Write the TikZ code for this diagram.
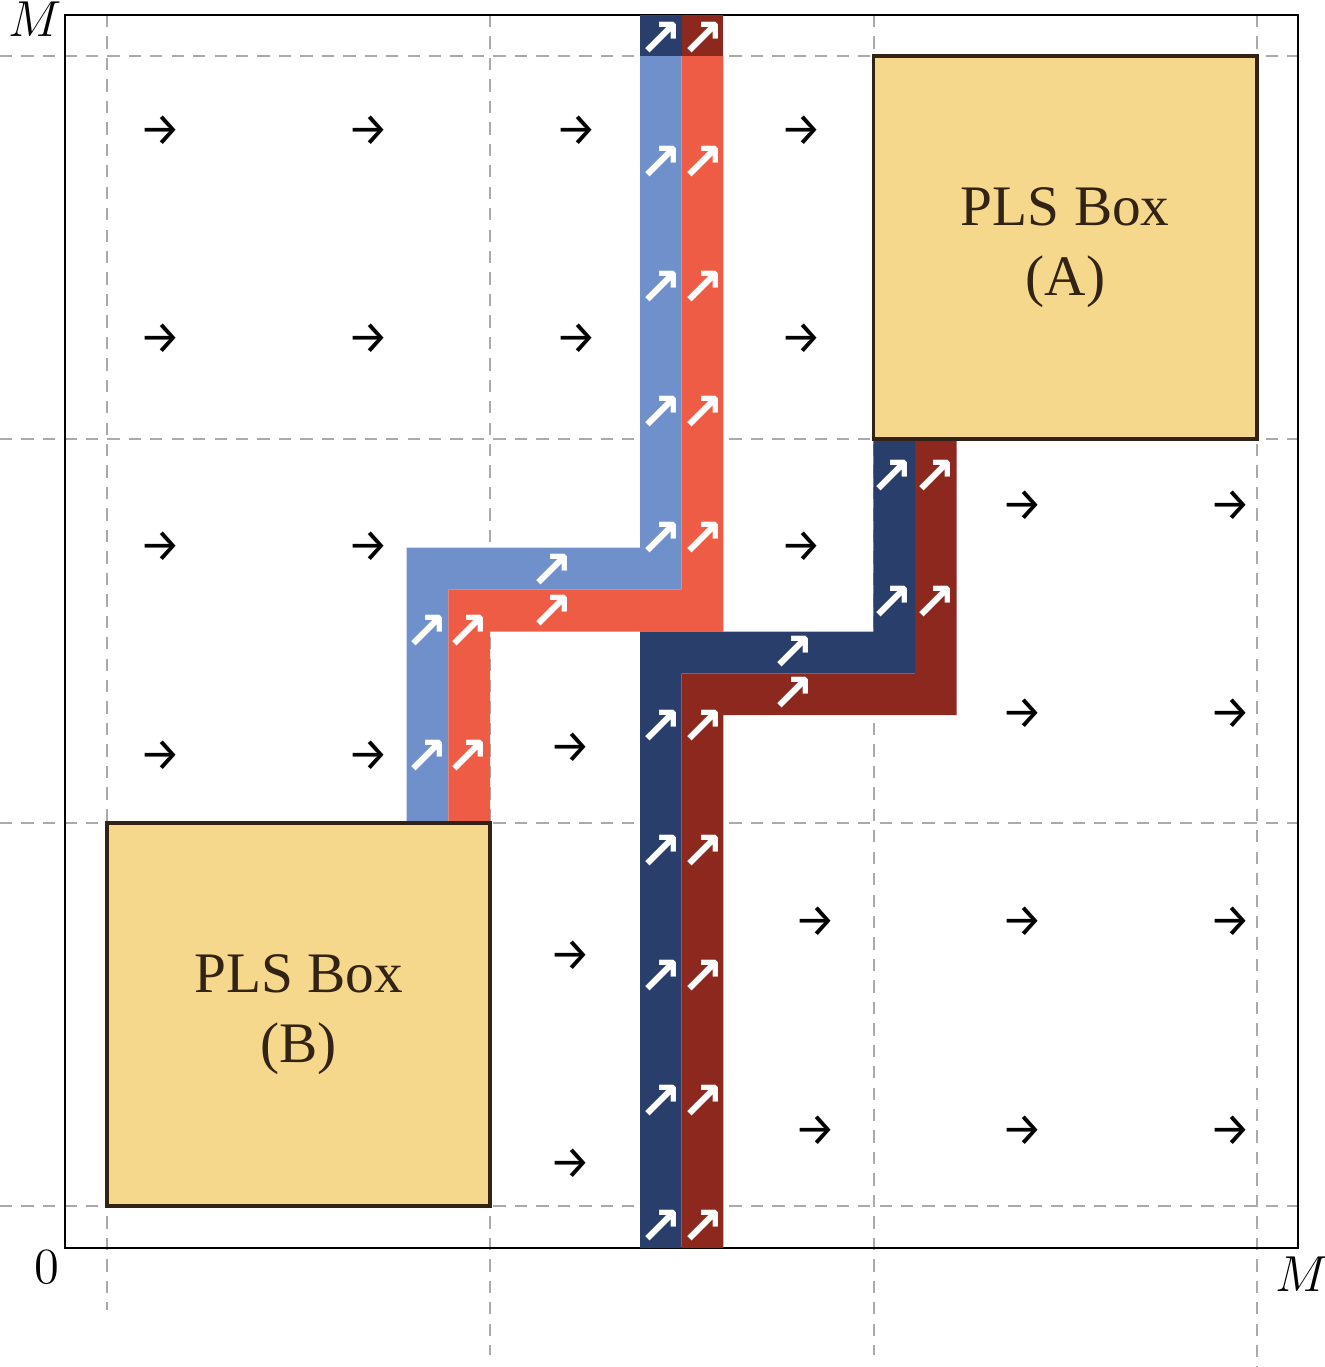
\documentclass[tikz,border=0pt]{standalone}
\usepackage{fontspec}
\newfontfamily\plsfont{Liberation Serif}
\newfontfamily\arrfontA{Fira Sans}
\newfontfamily\arrfontB{DejaVu Sans}
\definecolor{lblue}{RGB}{112,144,203}
\definecolor{lred}{RGB}{238,92,70}
\definecolor{dblue}{RGB}{42,62,108}
\definecolor{dred}{RGB}{140,40,30}
\definecolor{boxfill}{RGB}{245,216,140}
\definecolor{boxedge}{RGB}{50,35,20}
\definecolor{gridgray}{RGB}{170,170,170}
\tikzset{
  gridline/.style={gridgray, line width=0.55pt, dash pattern=on 3.5pt off 2.6pt},
  plsbox/.style={draw=boxedge, line width=1.1pt, fill=boxfill, minimum width=3.833cm, minimum height=3.833cm, inner sep=0pt, align=center, text=boxedge, font=\plsfont\fontsize{16.3}{20}\selectfont},
  flowarrow/.style={inner sep=0pt, font=\arrfontA\fontsize{13.2}{13}\selectfont},
  uparrow/.style={inner sep=0pt, text=white, font=\arrfontB\bfseries\fontsize{15}{15}\selectfont},
  axlab/.style={inner sep=0pt, font=\fontsize{14}{14}\selectfont},
}
\begin{document}
\begin{tikzpicture}[x=0.01cm,y=-0.01cm]
\useasboundingbox (0,0) rectangle (1325,1367);
% grid
\foreach \yy in {56,439.3,822.7,1206} \draw[gridline] (0,\yy) -- (1298,\yy);
\draw[gridline] (107,15) -- (107,1310);
\draw[gridline] (490.3,15) -- (490.3,1355);
\draw[gridline] (873.7,15) -- (873.7,1355);
\draw[gridline] (1257,15) -- (1257,1367);
% frame
\draw[line width=0.8pt] (65,15) rectangle (1298,1248);
% strips
\fill[lblue] (640,56) -- (681.7,56) -- (681.7,589.3) -- (448.3,589.3) -- (448.3,822.7) -- (406.7,822.7) -- (406.7,547.7) -- (640,547.7) -- cycle;
\fill[lred] (681.7,56) -- (723.3,56) -- (723.3,631.5) -- (490,631.5) -- (490,822.7) -- (448.3,822.7) -- (448.3,589.3) -- (681.7,589.3) -- cycle;
\fill[dblue] (640,1248) -- (640,631.5) -- (873.3,631.5) -- (873.3,439.3) -- (915,439.3) -- (915,673.3) -- (681.7,673.3) -- (681.7,1248) -- cycle;
\fill[dred] (681.7,1248) -- (681.7,673.3) -- (915,673.3) -- (915,439.3) -- (956.7,439.3) -- (956.7,715) -- (723.3,715) -- (723.3,1248) -- cycle;
\fill[dblue] (640,15) rectangle (681.7,56);
\fill[dred] (681.7,15) rectangle (723.3,56);
% boxes
\node[plsbox] (boxA) at (1065.3,247.6) {PLS Box\\(A)};
\node[plsbox] (boxB) at (298.6,1014.4) {PLS Box\\(B)};
% black flow arrows
\foreach \x/\y [count=\i] in {160/131,368/131,576/131,801/131,
  160/339,368/339,576/339,801/339,
  160/547,368/547,801/547,
  160/756,368/756,
  570/748,570/956,570/1164,
  1022/506,1230/506,1022/714,1230/714,
  815/922,1022/922,1230/922,
  815/1131,1022/1131,1230/1131}
  \node[flowarrow] (f\i) at (\x,\y) {→};
% white arrows on strips
\foreach \x/\y [count=\i] in {661/39,703/39,
  661/163,703/163,661/288,703/288,661/413,703/413,661/539,703/539,
  552/571,552/612,
  427/632,468/632,427/757,468/757,
  661/727,703/727,661/852,703/852,661/977,703/977,661/1102,703/1102,661/1227,703/1227,
  793/653,793/694,
  892/477,935/477,892/603,935/603}
  \node[uparrow] (u\i) at (\x,\y) {↗};
% axis labels
\node[axlab] (mtop) at (35,19) {$M$};
\node[axlab] (zero) at (47,1267) {$0$};
\node[axlab] (mright) at (1302,1274) {$M$};
\end{tikzpicture}
\end{document}
